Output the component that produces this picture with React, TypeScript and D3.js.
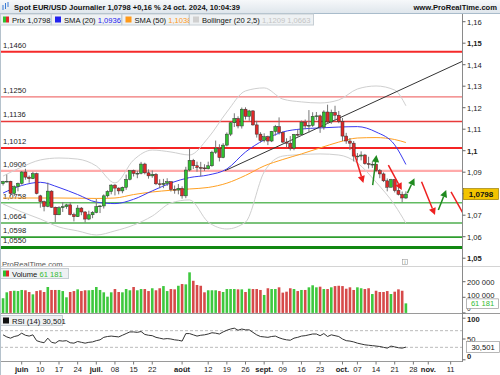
import React from 'react';
import * as d3 from 'd3';

// daily candles, index -5 = 27 mai 2024 ... index 103 = 24 oct. 2024
const FIRST_DAY = -5;

const opens = [
  1.0847, 1.0857, 1.0858, 1.0801, 1.0833,
  1.0848, 1.0901, 1.0877, 1.0870, 1.0893,
  1.0790, 1.0763, 1.0741, 1.0812, 1.0737,
  1.0702, 1.0735, 1.0740, 1.0748, 1.0703,
  1.0693, 1.0733, 1.0715, 1.0682, 1.0702,
  1.0713, 1.0740, 1.0743, 1.0790, 1.0810,
  1.0840, 1.0826, 1.0813, 1.0830, 1.0867,
  1.0907, 1.0894, 1.0895, 1.0938, 1.0897,
  1.0883, 1.0890, 1.0846, 1.0843, 1.0848,
  1.0856, 1.0820, 1.0817, 1.0825, 1.0790,
  1.0910, 1.0955, 1.0930, 1.0922, 1.0920,
  1.0916, 1.0930, 1.0993, 1.1012, 1.0968,
  1.1026, 1.1077, 1.1130, 1.1150, 1.1115,
  1.1193, 1.1160, 1.1185, 1.1120, 1.1077,
  1.1048, 1.1065, 1.1045, 1.1090, 1.1112,
  1.1085, 1.1040, 1.1035, 1.1012, 1.1076,
  1.1075, 1.1133, 1.1115, 1.1118, 1.1160,
  1.1162, 1.1110, 1.1180, 1.1134, 1.1178,
  1.1165, 1.1135, 1.1068, 1.1045, 1.1035,
  1.0975, 1.0975, 1.0980, 1.0940, 1.0937,
  1.0937, 1.0907, 1.0892, 1.0860, 1.0830,
  1.0866, 1.0815, 1.0797, 1.0780,
];
const highs = [
  1.0860, 1.0889, 1.0860, 1.0839, 1.0852,
  1.0905, 1.0916, 1.0885, 1.0902, 1.0898,
  1.0795, 1.0768, 1.0852, 1.0816, 1.0740,
  1.0742, 1.0761, 1.0753, 1.0760, 1.0712,
  1.0747, 1.0738, 1.0719, 1.0721, 1.0719,
  1.0776, 1.0747, 1.0797, 1.0816, 1.0844,
  1.0845, 1.0830, 1.0833, 1.0889, 1.0909,
  1.0912, 1.0907, 1.0948, 1.0944, 1.0913,
  1.0908, 1.0896, 1.0867, 1.0869, 1.0872,
  1.0858, 1.0838, 1.0845, 1.0834, 1.0925,
  1.1009, 1.0962, 1.0949, 1.0948, 1.0937,
  1.0949, 1.1000, 1.1047, 1.1030, 1.1035,
  1.1085, 1.1133, 1.1174, 1.1160, 1.1201,
  1.1202, 1.1190, 1.1189, 1.1139, 1.1086,
  1.1081, 1.1070, 1.1092, 1.1120, 1.1155,
  1.1090, 1.1058, 1.1068, 1.1078, 1.1098,
  1.1140, 1.1145, 1.1189, 1.1179, 1.1180,
  1.1168, 1.1188, 1.1214, 1.1191, 1.1209,
  1.1185, 1.1152, 1.1083, 1.1059, 1.1045,
  1.0989, 1.0997, 1.0985, 1.0972, 1.0950,
  1.0938, 1.0915, 1.0899, 1.0871, 1.0869,
  1.0867, 1.0833, 1.0810, 1.0811,
];
const lows = [
  1.0838, 1.0852, 1.0788, 1.0789, 1.0811,
  1.0842, 1.0865, 1.0851, 1.0868, 1.0797,
  1.0735, 1.0718, 1.0737, 1.0735, 1.0668,
  1.0700, 1.0715, 1.0730, 1.0699, 1.0671,
  1.0692, 1.0700, 1.0666, 1.0677, 1.0686,
  1.0709, 1.0710, 1.0731, 1.0782, 1.0797,
  1.0792, 1.0797, 1.0802, 1.0818, 1.0862,
  1.0880, 1.0872, 1.0890, 1.0890, 1.0870,
  1.0874, 1.0840, 1.0825, 1.0826, 1.0836,
  1.0810, 1.0800, 1.0797, 1.0777, 1.0779,
  1.0904, 1.0915, 1.0902, 1.0881, 1.0906,
  1.0913, 1.0925, 1.0985, 1.0950, 1.0965,
  1.1020, 1.1068, 1.1110, 1.1104, 1.1103,
  1.1145, 1.1139, 1.1116, 1.1061, 1.1038,
  1.1039, 1.1026, 1.1040, 1.1070, 1.1075,
  1.1035, 1.1017, 1.1001, 1.1002, 1.1066,
  1.1069, 1.1100, 1.1084, 1.1111, 1.1143,
  1.1083, 1.1098, 1.1125, 1.1125, 1.1140,
  1.1128, 1.1045, 1.1032, 1.1003, 1.0950,
  1.0954, 1.0955, 1.0935, 1.0917, 1.0920,
  1.0900, 1.0872, 1.0854, 1.0811, 1.0830,
  1.0806, 1.0792, 1.0761, 1.0776,
];
const closes = [
  1.0857, 1.0858, 1.0801, 1.0833, 1.0848,
  1.0901, 1.0877, 1.0870, 1.0893, 1.0801,
  1.0763, 1.0741, 1.0812, 1.0737, 1.0702,
  1.0735, 1.0740, 1.0748, 1.0703, 1.0693,
  1.0733, 1.0715, 1.0682, 1.0702, 1.0713,
  1.0740, 1.0743, 1.0790, 1.0810, 1.0840,
  1.0826, 1.0813, 1.0830, 1.0867, 1.0907,
  1.0894, 1.0895, 1.0938, 1.0897, 1.0883,
  1.0890, 1.0846, 1.0843, 1.0848, 1.0856,
  1.0820, 1.0817, 1.0825, 1.0790, 1.0910,
  1.0955, 1.0930, 1.0922, 1.0920, 1.0916,
  1.0930, 1.0993, 1.1012, 1.0968, 1.1026,
  1.1077, 1.1130, 1.1150, 1.1115, 1.1193,
  1.1160, 1.1185, 1.1120, 1.1077, 1.1048,
  1.1065, 1.1045, 1.1090, 1.1112, 1.1085,
  1.1040, 1.1035, 1.1012, 1.1076, 1.1075,
  1.1133, 1.1115, 1.1118, 1.1160, 1.1162,
  1.1110, 1.1180, 1.1134, 1.1178, 1.1165,
  1.1135, 1.1068, 1.1045, 1.1035, 1.0975,
  1.0975, 1.0980, 1.0940, 1.0937, 1.0937,
  1.0907, 1.0892, 1.0860, 1.0830, 1.0866,
  1.0815, 1.0797, 1.0780, 1.0798,
];

// volume, in thousands
const volumesK = [
  94, 132, 140, 142, 140, 147, 145, 134, 119, 140,
  145, 134, 166, 147, 147, 147, 140, 100, 134, 140,
  151, 140, 145, 145, 147, 166, 147, 132, 104, 132,
  153, 134, 132, 153, 145, 166, 145, 153, 153, 140,
  158, 145, 158, 172, 140, 153, 151, 174, 185, 183,
  260, 206, 179, 174, 132, 145, 145, 145, 140, 134,
  153, 153, 153, 151, 151, 134, 155,
  153, 153, 147, 115, 158, 153, 153, 164, 130, 136,
  158, 153, 140, 147, 147, 164, 177, 164, 168, 153,
  153, 164, 172, 174, 172, 155, 164, 147, 164, 158,
  153, 158, 121, 142, 134, 134, 140, 121, 136, 151,
  142, 61.181,
];

const rsi = [
  60, 55, 52, 56, 58,
  64, 59, 57, 60, 46,
  43, 41, 52, 42, 40,
  46, 45, 46, 41, 40,
  44, 42, 40, 42, 43,
  46, 48, 54, 56, 57,
  56, 55, 59, 63, 67,
  67, 66, 68, 61, 59,
  58, 54, 52, 50, 51,
  50, 48, 47, 45, 63,
  63, 60, 57, 59, 60,
  62, 65, 64, 62, 67,
  71, 74, 76, 71, 74,
  72, 72, 66, 60, 56,
  55, 54, 56, 57, 53,
  50, 48, 47, 52, 54,
  57, 58, 60, 62, 62,
  58, 63, 56, 60, 58,
  56, 50, 46, 45, 43,
  40, 38, 36, 35, 34,
  33, 32, 30, 28, 33,
  31, 29, 28, 30.5,
];

// indicator lines read every week
const indDays = [-5, 0, 5, 10, 15, 20, 25, 30, 35, 40, 45, 50, 55, 60, 65, 70, 75, 80, 85, 90, 95, 100, 103];
const sma20 = [1.0803, 1.0838, 1.0853, 1.0829, 1.0796, 1.0761, 1.0754, 1.0774, 1.0813, 1.0850, 1.0875, 1.0887, 1.0915, 1.0994, 1.1050, 1.1087, 1.1101, 1.1106, 1.1110, 1.1112, 1.1087, 1.1027, 1.0936];
const sma50 = [1.0780, 1.0780, 1.0780, 1.0780, 1.0779, 1.0778, 1.0780, 1.0796, 1.0808, 1.0816, 1.0822, 1.0829, 1.0849, 1.0885, 1.0929, 1.0959, 1.0985, 1.1013, 1.1040, 1.1059, 1.1061, 1.1052, 1.1038];
const bollUp = [1.0882, 1.0924, 1.0957, 1.0966, 1.0961, 1.0929, 1.0850, 1.0957, 1.1003, 1.0994, 1.0980, 1.1060, 1.1180, 1.1278, 1.1292, 1.1240, 1.1227, 1.1222, 1.1236, 1.1287, 1.1301, 1.1282, 1.1209];
const bollLow = [1.0752, 1.0715, 1.0682, 1.0645, 1.0627, 1.0608, 1.0627, 1.0654, 1.0696, 1.0757, 1.0771, 1.0668, 1.0636, 1.0668, 1.0901, 1.0975, 1.0982, 1.0985, 1.0980, 1.0943, 1.0854, 1.0747, 1.0663];

// horizontal support / resistance levels
const levels = [1.1460, 1.1250, 1.1136, 1.1012, 1.0906, 1.0758, 1.0664, 1.0598, 1.0550];
const levelColors = ['#f52a2a', '#f07474', '#e83a3a', '#f52424', '#ffaaaa', '#62bb62', '#4fae4f', '#2f9e2f', '#118811'];
const levelWidths = [2, 1.3, 1.6, 2, 2.2, 1.6, 1.6, 1.6, 3];

// trend line and drawn arrows, [day, price]
const trendFrom = [54.5, 1.0907];
const trendTo = [118.3, 1.1417];
const arrowFrom = [[88.9, 1.1003], [94.1, 1.0840], [98.3, 1.0933], [103.4, 1.0803], [107.2, 1.0856], [111.7, 1.0724], [115.1, 1.0808]];
const arrowTo = [[91.6, 1.0850], [95.1, 1.0980], [101.9, 1.0817], [105.3, 1.0872], [110.8, 1.0701], [113.8, 1.0817], [118.6, 1.0700]];
const arrowColors = ['#ee2020', '#1f8a1f', '#ee2020', '#1f8a1f', '#ee2020', '#1f8a1f', '#ee2020'];
const arrowHeads = [true, true, true, true, true, true, false];

const tickDays = [0, 5, 10, 15, 20, 25, 30, 35, 43, 50, 55, 60, 65, 70, 75, 80, 86, 90, 95, 100, 105, 109, 115];
const tickLabels = ['juin', '10', '17', '24', 'juil.', '08', '15', '22', 'août', '12', '19', '26', 'sept.', '09', '16', '23', 'oct.', '07', '14', '21', '28', 'nov.', '11'];
const priceTicks = [1.05, 1.06, 1.07, 1.08, 1.09, 1.1, 1.11, 1.12, 1.13, 1.14, 1.15, 1.16];
const priceLabels = ['1,05', '1,06', '1,07', '', '1,09', '1,1', '1,11', '1,12', '1,13', '1,14', '1,15', '1,16'];
const priceBold = [true, false, false, false, false, true, false, false, false, false, true, false];

const FONT = "'Liberation Sans', Arial, sans-serif";
const fmt = (v: number, d: number) => v.toFixed(d).replace('.', ',');

export default function App() {
  const x = d3.scaleLinear().domain([-5, 103]).range([3.05, 405.9]);
  const y = d3.scaleLinear().domain([1.05, 1.16]).range([258.2, 21.7]);
  const yVol = d3.scaleLinear().domain([0, 200]).range([312.9, 281.7]);
  const yRsi = d3.scaleLinear().domain([0, 100]).range([359.8, 318.2]);

  const AX = 462.5;
  const days = closes.map((_, k) => k + FIRST_DAY);

  const indLine = d3.line<number>()
    .x((_, k) => x(indDays[k]))
    .y(v => y(v))
    .curve(d3.curveMonotoneX);
  const rsiLine = d3.line<number>()
    .x((_, k) => x(days[k]))
    .y(v => yRsi(v));

  const last = closes.length - 1;

  return (
    <div>
      <style>{'body{margin:0}'}</style>
      <svg width={500} height={375} style={{ display: 'block', fontFamily: FONT }}>
        <defs>
          <linearGradient id="titleBg" x1="0" y1="0" x2="0" y2="1">
            <stop offset="0" stopColor="#f6f8fa" />
            <stop offset="1" stopColor="#dfe6ec" />
          </linearGradient>
          <clipPath id="clipMain"><rect x={0} y={14} width={AX} height={252} /></clipPath>
          <clipPath id="clipVol"><rect x={0} y={266} width={AX} height={47} /></clipPath>
          <clipPath id="clipRsi"><rect x={0} y={313} width={AX} height={48} /></clipPath>
        </defs>
        <rect x={0} y={0} width={500} height={375} fill="#fff" />

        {/* main panel */}
        <g clipPath="url(#clipMain)">
          {levels.map((lv, k) => (
            <g key={'lv' + k}>
              <line x1={0} x2={AX} y1={y(lv)} y2={y(lv)} stroke={levelColors[k]} strokeWidth={levelWidths[k]} />
              <text x={3} y={y(lv) - 4} fontSize={7.6} fill="#222">{fmt(lv, 4)}</text>
            </g>
          ))}
          <path d={indLine(bollUp) || ''} fill="none" stroke="#cfcfcf" strokeWidth={1} />
          <path d={indLine(bollLow) || ''} fill="none" stroke="#cfcfcf" strokeWidth={1} />
          <path d={indLine(sma50) || ''} fill="none" stroke="#ffa022" strokeWidth={1} />
          <path d={indLine(sma20) || ''} fill="none" stroke="#3a3af0" strokeWidth={1} />
          <line x1={x(trendFrom[0])} y1={y(trendFrom[1])} x2={x(trendTo[0])} y2={y(trendTo[1])} stroke="#333" strokeWidth={1} />
          {closes.map((c, k) => {
            const o = opens[k];
            const up = c >= o;
            const cx = x(days[k]);
            const top = y(Math.max(o, c));
            const bot = y(Math.min(o, c));
            return (
              <g key={'c' + k}>
                <line x1={cx} x2={cx} y1={y(highs[k])} y2={y(lows[k])} stroke="#777" strokeWidth={1} />
                <rect x={cx - 1.5} y={top} width={3} height={Math.max(0.8, bot - top)}
                  fill={up ? '#2fc02f' : '#e02828'} stroke="#333" strokeWidth={0.5} />
              </g>
            );
          })}
          {arrowFrom.map((a, k) => {
            const x0 = x(a[0]), y0 = y(a[1]);
            const x1 = x(arrowTo[k][0]), y1 = y(arrowTo[k][1]);
            const ang = Math.atan2(y1 - y0, x1 - x0);
            const hl = 7, hw = 3.6;
            const bx = x1 - hl * Math.cos(ang), by = y1 - hl * Math.sin(ang);
            const px = -Math.sin(ang) * hw, py = Math.cos(ang) * hw;
            return (
              <g key={'a' + k}>
                <line x1={x0} y1={y0} x2={arrowHeads[k] ? bx : x1} y2={arrowHeads[k] ? by : y1}
                  stroke={arrowColors[k]} strokeWidth={1.5} />
                {arrowHeads[k] && (
                  <path d={`M${x1},${y1}L${bx + px},${by + py}L${bx - px},${by - py}Z`} fill={arrowColors[k]} />
                )}
              </g>
            );
          })}
          <text x={2} y={267} fontSize={7.6} fill="#555">ProRealTime.com</text>
          <rect x={402.5} y={259.5} width={5} height={5} fill="#fff" stroke="#999" strokeWidth={0.6} />
          <text x={405} y={263.8} fontSize={4.5} textAnchor="middle" fill="#666">i</text>
        </g>

        {/* volume panel */}
        <g clipPath="url(#clipVol)">
          {volumesK.map((v, k) => (
            <rect key={'v' + k} x={x(days[k]) - 1.3} y={yVol(v)} width={2.6} height={yVol(0) - yVol(v)}
              fill={closes[k] >= opens[k] ? '#3ec83e' : '#d64a4a'} />
          ))}
        </g>
        <rect x={0.5} y={268.5} width={68} height={10} fill="#eef1f3" stroke="#c6ced4" />
        <rect x={3} y={270.5} width={3} height={6} fill="#2fc02f" />
        <rect x={6} y={270.5} width={3} height={6} fill="#e02828" />
        <text x={12} y={276.6} fontSize={7.6} fill="#111">Volume <tspan fill="#33bb33">61 181</tspan></text>

        {/* rsi panel */}
        <line x1={0} x2={AX} y1={yRsi(70)} y2={yRsi(70)} stroke="#bbb" strokeDasharray="3,2" />
        <line x1={0} x2={AX} y1={yRsi(30)} y2={yRsi(30)} stroke="#bbb" strokeDasharray="3,2" />
        <g clipPath="url(#clipRsi)">
          <path d={rsiLine(rsi) || ''} fill="none" stroke="#333" strokeWidth={1} />
        </g>
        <rect x={0.5} y={315.5} width={62} height={10} fill="#eef1f3" stroke="#c6ced4" />
        <rect x={3} y={317.5} width={6} height={6} fill="#111" />
        <text x={12} y={323.6} fontSize={7.6} fill="#111">RSI (14) 30,501</text>

        {/* panel separators and axes */}
        <line x1={0} x2={500} y1={266.5} y2={266.5} stroke="#d4d4d4" />
        <line x1={0} x2={500} y1={313.5} y2={313.5} stroke="#9a9a9a" />
        <line x1={0} x2={AX} y1={361.5} y2={361.5} stroke="#9a9a9a" />
        <line x1={AX} x2={AX} y1={14} y2={362} stroke="#8a8a8a" />
        <line x1={0.5} x2={0.5} y1={0} y2={375} stroke="#b5c2cc" />

        {priceTicks.map((p, k) => (
          <g key={'pt' + k}>
            <line x1={AX} x2={AX + 3} y1={y(p)} y2={y(p)} stroke="#666" />
            {priceLabels[k] && (
              <text x={467} y={y(p) + 2.8} fontSize={7.6} fontWeight={priceBold[k] ? 'bold' : 'normal'} fill="#222">
                {priceLabels[k]}
              </text>
            )}
          </g>
        ))}
        <rect x={463.5} y={y(closes[last]) - 5.5} width={35} height={11} fill="#f3c400" stroke="#9a7d00" strokeWidth={0.7} />
        <text x={481} y={y(closes[last]) + 3} fontSize={8} fontWeight="bold" textAnchor="middle" fill="#111">{fmt(closes[last], 4)}</text>

        {[200, 100, 0].map(v => (
          <g key={'va' + v}>
            <line x1={AX} x2={AX + 3} y1={yVol(v)} y2={yVol(v)} stroke="#666" />
            <text x={467} y={v === 0 ? 311.3 : v === 100 ? yVol(v) + 0.6 : yVol(v) + 2.8} fontSize={v === 0 ? 6.5 : 7.6} fill="#222">
              {v === 0 ? '0' : `${v} 000`}
            </text>
          </g>
        ))}
        <rect x={466.5} y={yVol(61.181) - 4.5} width={32} height={9.5} fill="#fff" stroke="#999" strokeWidth={0.7} />
        <text x={482.5} y={yVol(61.181) + 2.8} fontSize={7.6} textAnchor="middle" fill="#33bb33">61 181</text>

        {[100, 50, 0].map(v => (
          <g key={'ra' + v}>
            <line x1={AX} x2={AX + 3} y1={yRsi(v)} y2={yRsi(v)} stroke="#666" />
            <text x={467} y={v === 100 ? 322 : Math.min(yRsi(v) + 2.8, 359)} fontSize={7.6} fontWeight={v === 50 ? 'normal' : 'bold'} fill="#222">{v}</text>
          </g>
        ))}
        <rect x={466.5} y={yRsi(30.501) - 5.5} width={33} height={11} fill="#fff" stroke="#999" strokeWidth={0.7} />
        <text x={483} y={yRsi(30.501) + 2.8} fontSize={7.6} textAnchor="middle" fill="#111">30,501</text>

        {tickDays.map((d, k) => {
          const isMonth = isNaN(Number(tickLabels[k]));
          return (
            <g key={'xt' + k}>
              <line x1={x(d)} x2={x(d)} y1={361.5} y2={364.5} stroke="#777" />
              <text x={x(d)} y={372} fontSize={7.6} textAnchor="middle" fontWeight={isMonth ? 'bold' : 'normal'} fill="#222">{tickLabels[k]}</text>
            </g>
          );
        })}

        {/* title bar and legend */}
        <rect x={0} y={0} width={500} height={13} fill="url(#titleBg)" />
        <line x1={0} x2={500} y1={13.5} y2={13.5} stroke="#a9bccb" />
        <line x1={3} x2={3} y1={5} y2={10} stroke="#3a7bd5" />
        <line x1={5.5} x2={5.5} y1={3} y2={9} stroke="#3a7bd5" />
        <line x1={8} x2={8} y1={2} y2={7} stroke="#3a7bd5" />
        <text x={14} y={9.6} fontSize={8} fontWeight="bold" fill="#111" textLength={226} lengthAdjust="spacingAndGlyphs">
          Spot EUR/USD Journalier 1,0798 +0,16 % 24 oct. 2024, 10:04:39
        </text>
        <text x={497} y={9.6} fontSize={7.6} fontWeight="bold" fill="#111" textAnchor="end">www.ProRealTime.com</text>

        <rect x={0.5} y={14} width={50.5} height={11} fill="#eef1f3" stroke="#c6ced4" />
        <rect x={3} y={16.5} width={3} height={6} fill="#2fc02f" />
        <rect x={6} y={16.5} width={3} height={6} fill="#e02828" />
        <text x={12} y={22.6} fontSize={7.6} fill="#111">Prix 1,0798</text>

        <rect x={51.5} y={14} width={70} height={11} fill="#eef1f3" stroke="#c6ced4" />
        <rect x={55} y={16.5} width={6} height={6} fill="#2222ee" />
        <text x={64} y={22.6} fontSize={7.6} fill="#111">SMA (20) <tspan fill="#2222ee">1,0936</tspan></text>

        <rect x={122} y={14} width={67} height={11} fill="#eef1f3" stroke="#c6ced4" />
        <rect x={125.5} y={16.5} width={6} height={6} fill="#ff9a1a" />
        <text x={134.5} y={22.6} fontSize={7.6} fill="#111">SMA (50) <tspan fill="#ff9a1a">1,1038</tspan></text>

        <rect x={189.5} y={14} width={124} height={11} fill="#eef1f3" stroke="#c6ced4" />
        <rect x={193} y={16.5} width={6} height={6} fill="#d0d0d0" />
        <text x={202} y={22.6} fontSize={7.6} fill="#111">Bollinger (20 2,5) <tspan fill="#c4c4c4">1,1209 1,0663</tspan></text>
      </svg>
    </div>
  );
}
